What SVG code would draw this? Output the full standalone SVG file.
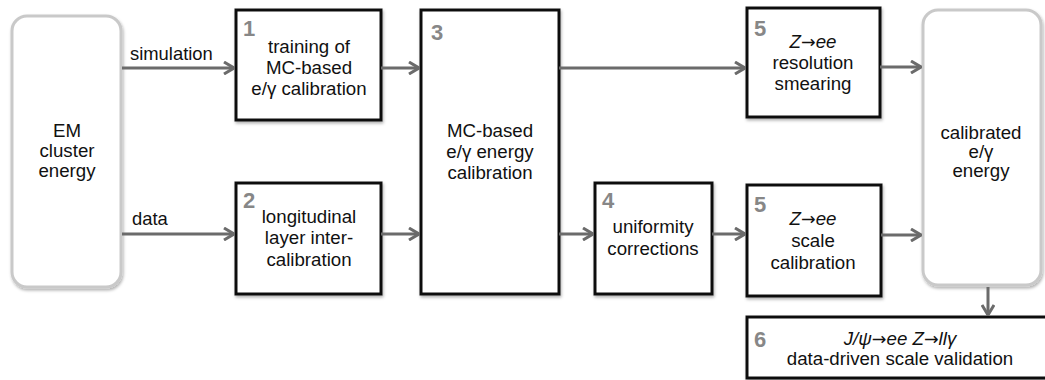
<svg xmlns="http://www.w3.org/2000/svg" width="1045" height="380" viewBox="0 0 1045 380">
<defs>
<style>
.box{fill:#fff;stroke:#111;stroke-width:3;filter:url(#sh)}
.rbox{fill:#fff;stroke:#c9c9c9;stroke-width:3;filter:url(#sh)}
.t{font-family:"Liberation Sans",Arial,sans-serif;font-size:18.7px;fill:#111;text-anchor:middle}
.l{font-family:"Liberation Sans",Arial,sans-serif;font-size:18.4px;fill:#111}
.n{font-family:"Liberation Sans",Arial,sans-serif;font-size:22px;font-weight:bold;fill:#878787}
.it{font-style:italic}
.ar{font-family:"DejaVu Sans",sans-serif;font-style:normal;font-size:17.5px}
.c{fill:none;stroke:#6b6b6b;stroke-width:3;marker-end:url(#ah)}
</style>
<filter id="sh" x="-10%" y="-10%" width="130%" height="130%">
<feDropShadow dx="1" dy="2" stdDeviation="1.5" flood-color="#000" flood-opacity="0.3"/>
</filter>
<marker id="ah" viewBox="0 0 12 14" refX="11" refY="7" markerWidth="12" markerHeight="14" markerUnits="userSpaceOnUse" orient="auto">
<path d="M1,1 L11,7 L1,13" fill="none" stroke="#6b6b6b" stroke-width="3"/>
</marker>
</defs>
<g id="em">
<rect class="rbox" x="12" y="16" width="109" height="271" rx="15"/>
<text class="t" x="67" y="137">EM</text>
<text class="t" x="67" y="157">cluster</text>
<text class="t" x="67" y="177">energy</text>
</g>
<g id="n1">
<rect class="box" x="236" y="10" width="145" height="110"/>
<text class="n" x="243" y="36">1</text>
<text class="t" x="309" y="53">training of</text>
<text class="t" x="309" y="74">MC-based</text>
<text class="t" x="309" y="95">e/γ calibration</text>
</g>
<g id="n2">
<rect class="box" x="236" y="183" width="145" height="111"/>
<text class="n" x="243" y="208">2</text>
<text class="t" x="309" y="223">longitudinal</text>
<text class="t" x="309" y="244">layer inter-</text>
<text class="t" x="309" y="266">calibration</text>
</g>
<g id="n3">
<rect class="box" x="421" y="10" width="138" height="284"/>
<text class="n" x="431" y="40">3</text>
<text class="t" x="490" y="137">MC-based</text>
<text class="t" x="490" y="158">e/γ energy</text>
<text class="t" x="490" y="179">calibration</text>
</g>
<g id="n4">
<rect class="box" x="595" y="183" width="117" height="111"/>
<text class="n" x="602" y="208">4</text>
<text class="t" x="653" y="233">uniformity</text>
<text class="t" x="653" y="255">corrections</text>
</g>
<g id="n5a">
<rect class="box" x="747" y="8" width="133" height="109"/>
<text class="n" x="754" y="36">5</text>
<text class="t it" x="813" y="48">Z<tspan class="ar">→</tspan>ee</text>
<text class="t" x="813" y="69">resolution</text>
<text class="t" x="813" y="90">smearing</text>
</g>
<g id="n5b">
<rect class="box" x="747" y="185" width="134" height="111"/>
<text class="n" x="754" y="212">5</text>
<text class="t it" x="813" y="225">Z<tspan class="ar">→</tspan>ee</text>
<text class="t" x="813" y="247">scale</text>
<text class="t" x="813" y="269">calibration</text>
</g>
<g id="out">
<rect class="rbox" x="923" y="10" width="118" height="275" rx="15"/>
<text class="t" x="981" y="139">calibrated</text>
<text class="t" x="981" y="158">e/γ</text>
<text class="t" x="981" y="177">energy</text>
</g>
<g id="n6">
<rect class="box" x="747" y="317" width="310" height="61"/>
<text class="n" x="754" y="347">6</text>
<text class="t it" x="900" y="345">J/ψ<tspan class="ar">→</tspan>ee Z<tspan class="ar">→</tspan>llγ</text>
<text class="t" x="900" y="365">data-driven scale validation</text>
</g>
<g id="connectors">
<path class="c" d="M122,68 H234"/>
<path class="c" d="M122,234 H234"/>
<path class="c" d="M381,68 H419"/>
<path class="c" d="M381,234 H419"/>
<path class="c" d="M559,68 H745"/>
<path class="c" d="M559,234 H593"/>
<path class="c" d="M712,234 H745"/>
<path class="c" d="M880,67 H921"/>
<path class="c" d="M881,235 H921"/>
<path class="c" d="M988,287 V315"/>
<text class="l" x="130" y="60">simulation</text>
<text class="l" x="132" y="225">data</text>
</g>
</svg>
